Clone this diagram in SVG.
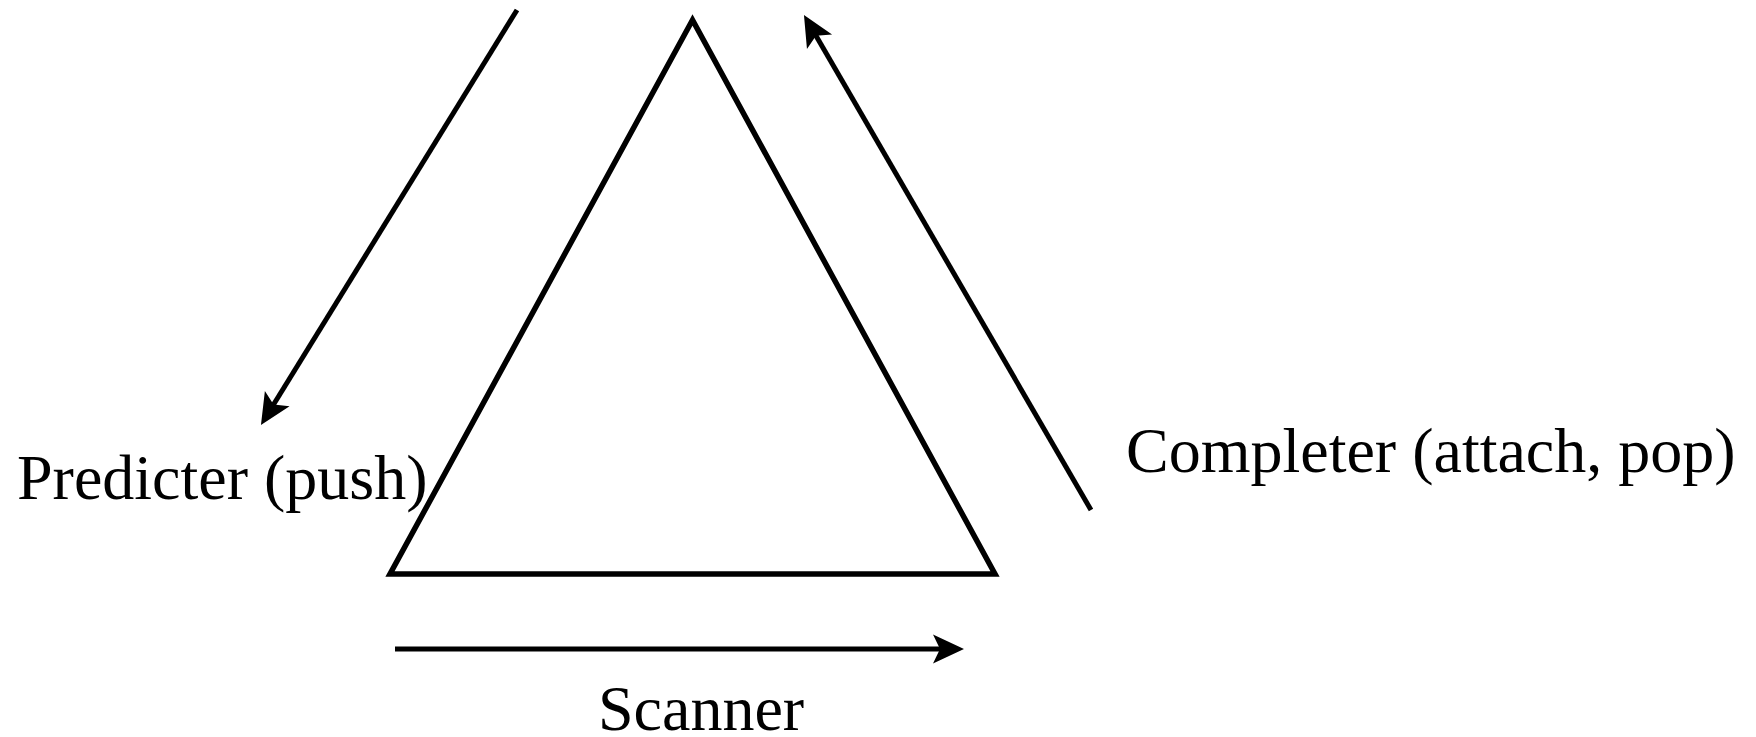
<svg xmlns="http://www.w3.org/2000/svg" width="1756" height="737" viewBox="0 0 1756 737">
<style>
.lbl{font-family:"Liberation Serif","Times New Roman",serif;font-size:64px;fill:#000}
.edge{stroke:#000;stroke-width:5;fill:none}
.tri{stroke:#000;stroke-width:5.5;fill:#fff;stroke-linejoin:miter}
</style>
<defs>
<marker id="ah" markerUnits="userSpaceOnUse" viewBox="-12 -17 38 34" refX="0" refY="0" markerWidth="38" markerHeight="34" orient="auto" overflow="visible">
<path d="M22,0 L-9,-14.5 L-2,0 L-9,14.5 Z" fill="#000"/>
</marker>
</defs>
<rect width="1756" height="737" fill="#fff"/>
<g id="triangle">
<polygon class="tri" points="692.5,20 390,574 995,574"/>
</g>
<g id="connectors">
<line id="predicter-arrow" class="edge" x1="517" y1="10" x2="272.5" y2="406.3" marker-end="url(#ah)"/>
<line id="completer-arrow" class="edge" x1="1091" y1="510" x2="815" y2="34" marker-end="url(#ah)"/>
<line id="scanner-arrow" class="edge" x1="395" y1="649" x2="942" y2="649" marker-end="url(#ah)"/>
</g>
<g id="label-predicter"><text class="lbl" x="17" y="499">Predicter (push)</text></g>
<g id="label-completer"><text class="lbl" x="1126" y="472">Completer (attach, pop)</text></g>
<g id="label-scanner"><text class="lbl" x="598" y="730">Scanner</text></g>
</svg>
